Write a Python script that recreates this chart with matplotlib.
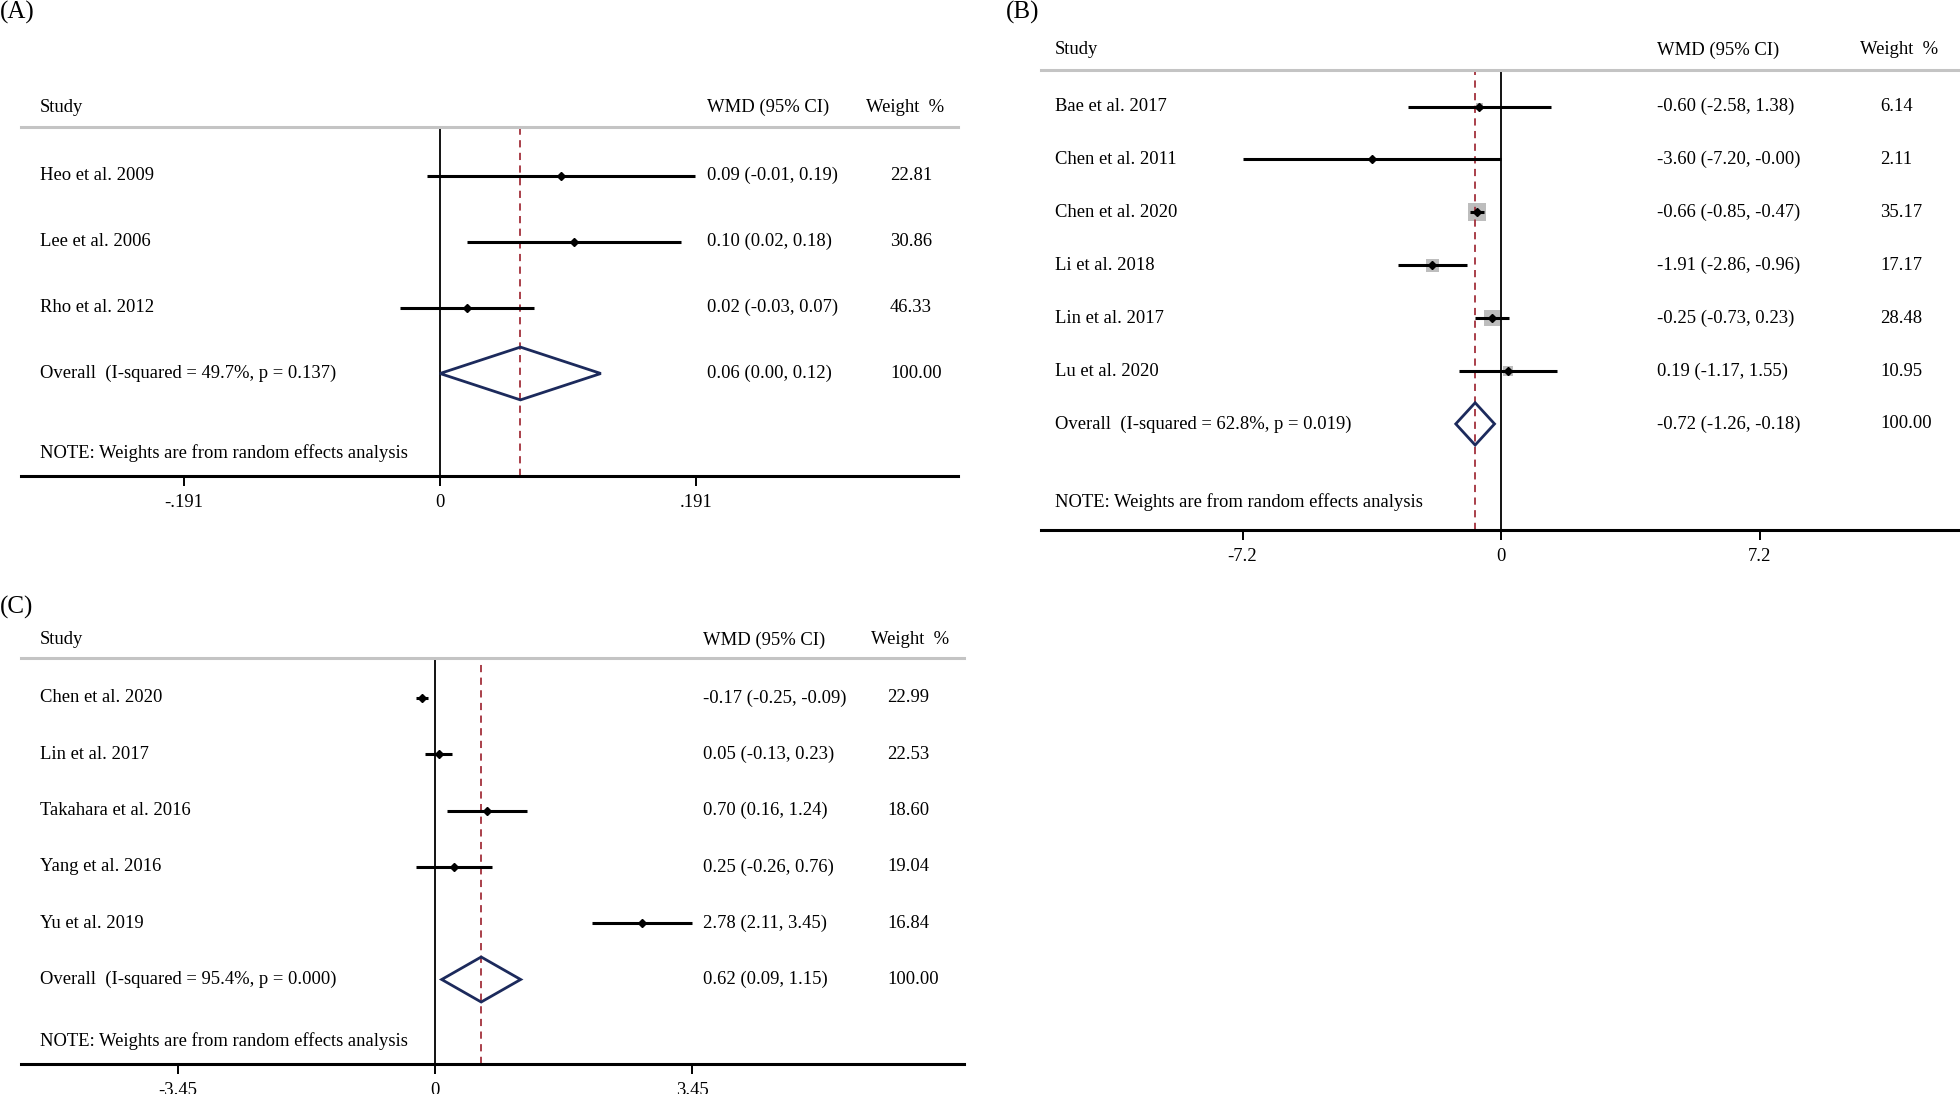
import matplotlib
matplotlib.use("Agg")
import matplotlib.pyplot as plt
import numpy as np
from matplotlib.patches import Polygon

plt.rcParams["font.family"] = ["Liberation Serif", "DejaVu Serif"]

W, H, DPI = 1960, 1094, 100

# ---- data -------------------------------------------------------------
a_studies = ["Heo et al. 2009", "Lee et al. 2006", "Rho et al. 2012"]
a_est = [0.09, 0.10, 0.02]
a_lo = [-0.01, 0.02, -0.03]
a_hi = [0.19, 0.18, 0.07]
a_weight = [22.81, 30.86, 46.33]
a_overall = [0.06, 0.00, 0.12]
a_overall_label = "Overall  (I-squared = 49.7%, p = 0.137)"
a_ticks = [-0.191, 0, 0.191]
a_ticklabels = ["-.191", "0", ".191"]

b_studies = ["Bae et al. 2017", "Chen et al. 2011", "Chen et al. 2020",
             "Li et al. 2018", "Lin et al. 2017", "Lu et al. 2020"]
b_est = [-0.60, -3.60, -0.66, -1.91, -0.25, 0.19]
b_lo = [-2.58, -7.20, -0.85, -2.86, -0.73, -1.17]
b_hi = [1.38, -0.00, -0.47, -0.96, 0.23, 1.55]
b_weight = [6.14, 2.11, 35.17, 17.17, 28.48, 10.95]
b_overall = [-0.72, -1.26, -0.18]
b_overall_label = "Overall  (I-squared = 62.8%, p = 0.019)"
b_ticks = [-7.2, 0, 7.2]
b_ticklabels = ["-7.2", "0", "7.2"]

c_studies = ["Chen et al. 2020", "Lin et al. 2017", "Takahara et al. 2016",
             "Yang et al. 2016", "Yu et al. 2019"]
c_est = [-0.17, 0.05, 0.70, 0.25, 2.78]
c_lo = [-0.25, -0.13, 0.16, -0.26, 2.11]
c_hi = [-0.09, 0.23, 1.24, 0.76, 3.45]
c_weight = [22.99, 22.53, 18.60, 19.04, 16.84]
c_overall = [0.62, 0.09, 1.15]
c_overall_label = "Overall  (I-squared = 95.4%, p = 0.000)"
c_ticks = [-3.45, 0, 3.45]
c_ticklabels = ["-3.45", "0", "3.45"]

NOTE = "NOTE: Weights are from random effects analysis"
FS = 13.4


def forest(fig, lay, studies, est, lo, hi, weight, overall, overall_label,
           ticks, ticklabels, boxes=False):
    left, right, top, bottom = lay["box"]
    ax = fig.add_axes([left / W, 1 - bottom / H, (right - left) / W, (bottom - top) / H])
    zero, unit = lay["zero"], lay["unit"]
    row0, step = lay["row0"], lay["step"]
    ax.set_xlim((left - zero) / unit, (right - zero) / unit)
    ax.set_ylim((bottom - row0) / step, (top - row0) / step)

    n = len(studies)
    rows = np.arange(n)
    tr = ax.get_yaxis_transform()

    def fx(px):
        return (px - left) / (right - left)

    ax.axvline(0, color="black", lw=1.3, zorder=2)
    ax.axvline(overall[0], color="#a3303c", lw=1.3, dashes=(4, 3), zorder=2)

    # gray weight boxes (only drawn in panel B of the original)
    if boxes:
        ax.scatter(est, rows, marker="s", s=(2.2 * np.sqrt(weight)) ** 2,
                   color="#bdbdbd", linewidths=0, zorder=1)
    ax.hlines(rows, lo, hi, color="black", lw=2.2, zorder=3)
    ax.plot(est, rows, ls="none", marker="D", ms=4.5, color="black", zorder=4)

    r = n
    ax.add_patch(Polygon([(overall[1], r), (overall[0], r - 0.4),
                          (overall[2], r), (overall[0], r + 0.4)],
                         closed=True, fill=False, edgecolor="#1c2a5c", lw=2, zorder=4))

    # text columns
    hy = (lay["header"] - row0) / step
    ax.text(fx(lay["c_study"]), hy, "Study", transform=tr, fontsize=FS, va="center", clip_on=False)
    ax.text(fx(lay["c_wmd"]), hy, "WMD (95% CI)", transform=tr, fontsize=FS, va="center", clip_on=False)
    ax.text(fx(lay["c_wh"]), hy, "Weight  %", transform=tr, fontsize=FS, va="center", clip_on=False)
    labels = list(studies) + [overall_label]
    effects = [f"{e:.2f} ({l:.2f}, {h:.2f})" for e, l, h in zip(est, lo, hi)]
    effects.append(f"{overall[0]:.2f} ({overall[1]:.2f}, {overall[2]:.2f})")
    wts = [f"{w:.2f}" for w in weight] + ["100.00"]
    for i in range(n + 1):
        ax.text(fx(lay["c_study"]), i, labels[i], transform=tr, fontsize=FS, va="center")
        ax.text(fx(lay["c_wmd"]), i, effects[i], transform=tr, fontsize=FS, va="center")
        ax.text(fx(lay["c_w"]), i, wts[i], transform=tr, fontsize=FS, va="center")
    ax.text(fx(lay["c_study"]), (lay["note"] - row0) / step, NOTE, transform=tr,
            fontsize=FS, va="center")

    for s in ("left", "right"):
        ax.spines[s].set_visible(False)
    ax.spines["top"].set_color("#c4c4c4")
    ax.spines["top"].set_linewidth(2.2)
    ax.spines["bottom"].set_linewidth(2.2)
    ax.set_yticks([])
    ax.set_xticks(ticks)
    ax.set_xticklabels(ticklabels, fontsize=FS)
    ax.tick_params(axis="x", direction="out", length=7.2, width=1.4, pad=6)

    fig.text(lay["tag_x"] / W, 1 - lay["tag_y"] / H, lay["tag"], fontsize=18,
             va="center", ha="left")
    return ax


fig = plt.figure(figsize=(W / DPI, H / DPI), dpi=DPI)

lay_a = dict(box=(21, 958, 127, 476), zero=440, unit=256 / 0.191,
             row0=175.5, step=66, header=107, note=453,
             c_study=40, c_wmd=707, c_wh=866, c_w=890,
             tag="(A)", tag_x=0, tag_y=12)
lay_b = dict(box=(1041, 1960, 70, 530), zero=1501, unit=258.5 / 7.2,
             row0=106.5, step=52.9, header=50, note=502,
             c_study=1055, c_wmd=1657, c_wh=1860, c_w=1880,
             tag="(B)", tag_x=1006, tag_y=12)
lay_c = dict(box=(21, 964, 658, 1064), zero=435, unit=257 / 3.45,
             row0=698, step=56.3, header=640, note=1041,
             c_study=40, c_wmd=703, c_wh=871, c_w=887,
             tag="(C)", tag_x=0, tag_y=607)

forest(fig, lay_a, a_studies, a_est, a_lo, a_hi, a_weight, a_overall,
       a_overall_label, a_ticks, a_ticklabels)
forest(fig, lay_b, b_studies, b_est, b_lo, b_hi, b_weight, b_overall,
       b_overall_label, b_ticks, b_ticklabels, boxes=True)
forest(fig, lay_c, c_studies, c_est, c_lo, c_hi, c_weight, c_overall,
       c_overall_label, c_ticks, c_ticklabels)

fig.savefig("out.png", dpi=DPI)
